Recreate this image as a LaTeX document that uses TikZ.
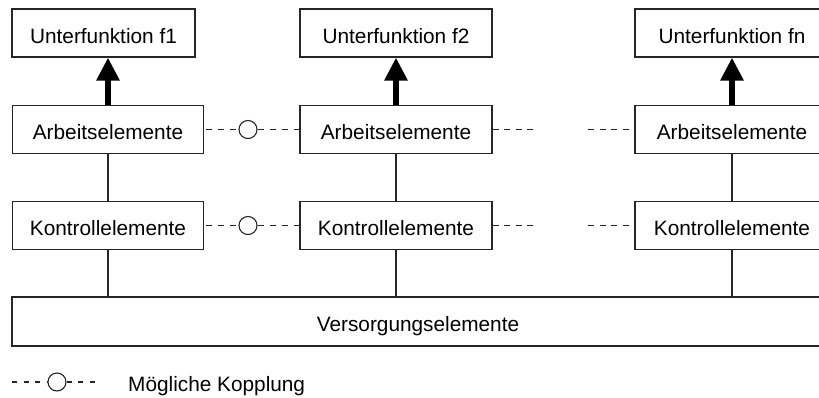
\documentclass[tikz,border=0pt]{standalone}
\usepackage{fontspec}
\setmainfont{Liberation Sans}
\usetikzlibrary{arrows.meta}
\begin{document}
\begin{tikzpicture}[x=1pt,y=-1pt,
  box/.style={draw=black!85, line width=1.1pt, inner sep=0pt, minimum height=48pt,
    font=\fontsize{20.8}{25}\selectfont, text height=20pt, text depth=0pt},
  lbl/.style={inner sep=0pt, font=\fontsize{20.8}{25}\selectfont, text height=20pt, text depth=0pt},
  link/.style={draw=black!85, line width=1.1pt},
  couple/.style={draw=black!85, line width=1.1pt, circle, minimum size=18pt, inner sep=0pt},
  dashline/.style={draw=black!85, line width=1.1pt, dash pattern=on 6pt off 6pt},
  bigarrow/.style={draw=black, line width=6pt, -{Triangle[width=22pt,length=23pt]}}]
\useasboundingbox (0,0) rectangle (819,397);
\clip (0,0) rectangle (819,397);

% column 1
\node[box, minimum width=183pt] (u1) at (103.5,33) {Unterfunktion f1};
\node[box, minimum width=191pt] (a1) at (108,129.5) {Arbeitselemente};
\node[box, minimum width=191pt] (k1) at (108,225.5) {Kontrollelemente};
% column 2
\node[box, minimum width=192pt] (u2) at (396,33) {Unterfunktion f2};
\node[box, minimum width=192pt] (a2) at (396,129.5) {Arbeitselemente};
\node[box, minimum width=192pt] (k2) at (396,225.5) {Kontrollelemente};
% column 3
\node[box, minimum width=194pt] (u3) at (732,33) {Unterfunktion fn};
\node[box, minimum width=194pt] (a3) at (732,129.5) {Arbeitselemente};
\node[box, minimum width=194pt] (k3) at (732,225.5) {Kontrollelemente};
% supply
\node[box, minimum width=812pt, minimum height=49pt] (v) at (418,321.5) {Versorgungselemente};

% arrows
\draw[bigarrow] (a1.north) -- (a1.north |- u1.south);
\draw[bigarrow] (a2.north) -- (a2.north |- u2.south);
\draw[bigarrow] (a3.north) -- (a3.north |- u3.south);

% vertical links
\draw[link] (a1.south) -- (k1.north);
\draw[link] (a2.south) -- (k2.north);
\draw[link] (a3.south) -- (k3.north);
\draw[link] (k1.south) -- (k1.south |- v.north);
\draw[link] (k2.south) -- (k2.south |- v.north);
\draw[link] (k3.south) -- (k3.south |- v.north);

% couplings
\node[couple] (c1) at (248,129.5) {};
\node[couple] (c2) at (248,225.5) {};
\draw[dashline, dash phase=10pt] (a1.east) -- (c1.west);
\draw[dashline] (c1.east) -- (a2.west);
\draw[dashline, dash phase=10pt] (k1.east) -- (c2.west);
\draw[dashline] (c2.east) -- (k2.west);

% open couplings
\coordinate (d1) at (535,129.5);
\coordinate (d2) at (588,129.5);
\coordinate (e1) at (535,225.5);
\coordinate (e2) at (588,225.5);
\draw[dashline, dash pattern=on 6pt off 5.5pt] (a2.east) -- (d1);
\draw[dashline, dash pattern=on 6pt off 5.5pt] (d2) -- (a3.west);
\draw[dashline, dash pattern=on 6pt off 5.5pt] (k2.east) -- (e1);
\draw[dashline, dash pattern=on 6pt off 5.5pt] (e2) -- (k3.west);

% legend
\coordinate (l1) at (12,382);
\node[couple] (lc) at (57,382) {};
\coordinate (l2) at (99,382);
\draw[dashline, dash pattern=on 5pt off 6.5pt] (l1) -- (lc.west);
\draw[dashline, dash pattern=on 5pt off 6.5pt] (lc.east) -- (l2);
\node[lbl, anchor=west] (lt) at (128,381) {Mögliche Kopplung};
\end{tikzpicture}
\end{document}
